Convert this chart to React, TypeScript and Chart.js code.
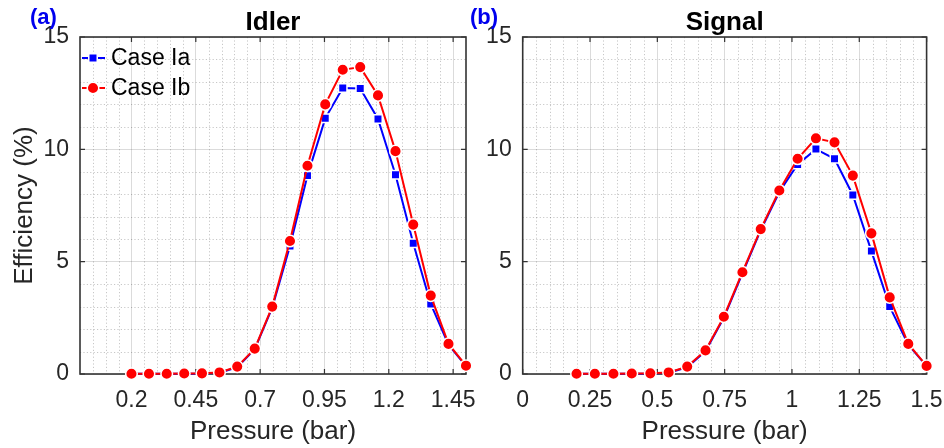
import React, { useEffect, useRef } from "react";
import { Chart, registerables } from "chart.js";

Chart.register(...registerables);

// ---------- data ----------
const pressure = [0.2, 0.268, 0.337, 0.405, 0.474, 0.542, 0.611, 0.679, 0.747, 0.816, 0.884, 0.953, 1.021, 1.089, 1.158, 1.226, 1.295, 1.363, 1.432, 1.5];
const idlerCaseIa = [0.01, 0.01, 0.01, 0.01, 0.02, 0.06, 0.3, 1.1, 2.95, 5.7, 8.83, 11.38, 12.73, 12.71, 11.35, 8.87, 5.82, 3.12, 1.3, 0.35];
const idlerCaseIb = [0.01, 0.01, 0.01, 0.02, 0.03, 0.07, 0.33, 1.13, 3.0, 5.92, 9.27, 12.0, 13.54, 13.66, 12.4, 9.92, 6.65, 3.49, 1.34, 0.37];
const signalCaseIa = [0.01, 0.01, 0.01, 0.01, 0.02, 0.06, 0.3, 1.02, 2.5, 4.48, 6.4, 8.1, 9.33, 10.01, 9.58, 7.97, 5.47, 3.0, 1.3, 0.35];
const signalCaseIb = [0.01, 0.01, 0.01, 0.02, 0.03, 0.07, 0.33, 1.05, 2.55, 4.53, 6.45, 8.17, 9.58, 10.49, 10.31, 8.83, 6.26, 3.41, 1.34, 0.36];
const idlerXTicks = [0.2, 0.45, 0.7, 0.95, 1.2, 1.45];
const signalXTicks = [0, 0.25, 0.5, 0.75, 1, 1.25, 1.5];
const yTicks = [0, 5, 10, 15];
const seriesNames = ["Case Ia", "Case Ib"];
const panelTitles = ["Idler", "Signal"];
const panelTags = ["(a)", "(b)"];
const xTitle = "Pressure (bar)";
const yTitle = "Efficiency (%)";

const FONT = "'Liberation Sans', Arial, Helvetica, sans-serif";
const AX = "#262626";

const isOnGrid = (v: number, list: number[]) => list.some((t) => Math.abs(t - v) < 1e-6);

function drawMarker(ctx: CanvasRenderingContext2D, style: string, r: number, x: number, y: number) {
  ctx.beginPath();
  if (style === "rect") {
    const s = Math.SQRT1_2 * r;
    ctx.rect(x - s, y - s, 2 * s, 2 * s);
  } else {
    ctx.arc(x, y, r, 0, Math.PI * 2);
  }
  ctx.closePath();
  ctx.fill();
  ctx.stroke();
}

const matlabPlugin = {
  id: "matlabPlugin",
  beforeDatasetsDraw(chart: any, _args: any, opts: any) {
    const { ctx, chartArea: a, scales } = chart;
    const xs = scales.x;
    const ys = scales.y;
    ctx.save();
    // minor grid (dotted)
    ctx.strokeStyle = "rgba(0,0,0,0.22)";
    ctx.lineWidth = 1;
    ctx.setLineDash([1.2, 2.2]);
    for (let i = 1; i < 30; i++) {
      const v = i * 0.05;
      if (isOnGrid(v, opts.xTicks)) continue;
      const px = Math.round(xs.getPixelForValue(v)) + 0.5;
      ctx.beginPath();
      ctx.moveTo(px, a.top);
      ctx.lineTo(px, a.bottom);
      ctx.stroke();
    }
    for (let i = 1; i < 15; i++) {
      if (isOnGrid(i, yTicks)) continue;
      const py = Math.round(ys.getPixelForValue(i)) + 0.5;
      ctx.beginPath();
      ctx.moveTo(a.left, py);
      ctx.lineTo(a.right, py);
      ctx.stroke();
    }
    ctx.setLineDash([]);
    // box
    ctx.strokeStyle = "#333333";
    ctx.lineWidth = 1.6;
    ctx.strokeRect(a.left, a.top, a.right - a.left, a.bottom - a.top);
    // inward ticks
    ctx.lineWidth = 1.2;
    const tl = 5;
    opts.xTicks.forEach((v: number) => {
      const px = xs.getPixelForValue(v);
      ctx.beginPath();
      ctx.moveTo(px, a.bottom);
      ctx.lineTo(px, a.bottom - tl);
      ctx.moveTo(px, a.top);
      ctx.lineTo(px, a.top + tl);
      ctx.stroke();
    });
    yTicks.forEach((v: number) => {
      const py = ys.getPixelForValue(v);
      ctx.beginPath();
      ctx.moveTo(a.left, py);
      ctx.lineTo(a.left + tl, py);
      ctx.moveTo(a.right, py);
      ctx.lineTo(a.right - tl, py);
      ctx.stroke();
    });
    ctx.restore();
  },
  afterDatasetsDraw(chart: any, _args: any, opts: any) {
    const { ctx, chartArea: a } = chart;
    ctx.save();
    // panel title
    ctx.fillStyle = "#000000";
    ctx.font = `bold 26px ${FONT}`;
    ctx.textAlign = "center";
    ctx.textBaseline = "alphabetic";
    ctx.fillText(opts.title, (a.left + a.right) / 2, 30);
    // tag
    ctx.fillStyle = "#0000ee";
    ctx.font = `bold 22px ${FONT}`;
    ctx.textAlign = "left";
    ctx.fillText(opts.tag, opts.tagX, 24);
    // legend
    if (opts.legend) {
      [0, 1].forEach((r) => {
        const ds = chart.data.datasets[r];
        const y = 58 + r * 30;
        const x0 = a.left + 2;
        const x1 = a.left + 25;
        const mx = a.left + 13;
        ctx.strokeStyle = ds.borderColor;
        ctx.lineWidth = 2;
        ctx.beginPath();
        ctx.moveTo(x0, y);
        ctx.lineTo(x1, y);
        ctx.stroke();
        ctx.fillStyle = ds.pointBackgroundColor;
        ctx.strokeStyle = ds.pointBorderColor;
        ctx.lineWidth = ds.pointBorderWidth;
        drawMarker(ctx, ds.pointStyle, ds.pointRadius, mx, y);
        ctx.fillStyle = "#000000";
        ctx.font = `23px ${FONT}`;
        ctx.textAlign = "left";
        ctx.textBaseline = "middle";
        ctx.fillText(ds.label, a.left + 31, y + 1);
      });
    }
    ctx.restore();
  },
};

function makeConfig(p: {
  ia: number[];
  ib: number[];
  xTicks: number[];
  title: string;
  tag: string;
  tagX: number;
  legend: boolean;
  yAxisWidth: number;
  yTitle: boolean;
  padRight: number;
}) {
  const blue = "#0000ff";
  const red = "#ff0000";
  return {
    type: "line" as const,
    data: {
      datasets: [
        {
          label: seriesNames[0],
          data: pressure.map((x, i) => ({ x, y: p.ia[i] })),
          borderColor: blue,
          backgroundColor: blue,
          borderWidth: 2,
          pointStyle: "rect",
          pointRadius: 6,
          pointBackgroundColor: blue,
          pointBorderColor: "#ffffff",
          pointBorderWidth: 1.5,
          tension: 0,
          clip: false,
          order: 1,
        },
        {
          label: seriesNames[1],
          data: pressure.map((x, i) => ({ x, y: p.ib[i] })),
          borderColor: red,
          backgroundColor: red,
          borderWidth: 2,
          pointStyle: "circle",
          pointRadius: 5.8,
          pointBackgroundColor: red,
          pointBorderColor: "#ffffff",
          pointBorderWidth: 1.5,
          tension: 0,
          clip: false,
          order: 0,
        },
      ],
    },
    options: {
      animation: false,
      responsive: false,
      devicePixelRatio: 1,
      events: [],
      layout: { padding: { left: 0, top: 37, right: p.padRight, bottom: 0 } },
      plugins: {
        legend: { display: false },
        title: { display: false },
        tooltip: { enabled: false },
        matlabPlugin: { xTicks: p.xTicks, title: p.title, tag: p.tag, tagX: p.tagX, legend: p.legend },
      },
      scales: {
        x: {
          type: "linear",
          min: 0,
          max: 1.5,
          afterBuildTicks: (s: any) => {
            s.ticks = p.xTicks.map((v) => ({ value: v }));
          },
          afterFit: (s: any) => {
            s.height = 74;
            s.paddingLeft = 0;
            s.paddingRight = 0;
          },
          ticks: {
            autoSkip: false,
            maxRotation: 0,
            minRotation: 0,
            padding: 13,
            color: AX,
            font: { family: FONT, size: 23 },
            callback: (v: number) => String(v),
          },
          grid: { color: "rgba(0,0,0,0.14)", lineWidth: 1, drawTicks: false },
          border: { display: false },
          title: {
            display: true,
            text: xTitle,
            color: AX,
            font: { family: FONT, size: 26 },
            padding: { top: 0, bottom: 1 },
          },
        },
        y: {
          type: "linear",
          min: 0,
          max: 15,
          afterBuildTicks: (s: any) => {
            s.ticks = yTicks.map((v) => ({ value: v }));
          },
          afterFit: (s: any) => {
            s.width = p.yAxisWidth;
            s.paddingTop = 0;
            s.paddingBottom = 0;
          },
          ticks: {
            padding: 11,
            color: AX,
            font: { family: FONT, size: 23 },
            callback: (v: number) => String(v),
          },
          grid: { color: "rgba(0,0,0,0.14)", lineWidth: 1, drawTicks: false },
          border: { display: false },
          title: {
            display: p.yTitle,
            text: yTitle,
            color: AX,
            font: { family: FONT, size: 26 },
            padding: { top: 9, bottom: 0 },
          },
        },
      },
    },
    plugins: [matlabPlugin],
  };
}

function Panel(props: { config: any; left: number; width: number }) {
  const ref = useRef<HTMLCanvasElement>(null);
  useEffect(() => {
    const chart = new Chart(ref.current as HTMLCanvasElement, props.config);
    return () => chart.destroy();
  }, []);
  return (
    <canvas
      ref={ref}
      width={props.width}
      height={448}
      style={{ position: "absolute", left: props.left, top: 0, width: props.width, height: 448 }}
    />
  );
}

export default function App() {
  const leftCfg = makeConfig({
    ia: idlerCaseIa,
    ib: idlerCaseIb,
    xTicks: idlerXTicks,
    title: panelTitles[0],
    tag: panelTags[0],
    tagX: 30,
    legend: true,
    yAxisWidth: 80,
    yTitle: true,
    padRight: 490 - 466,
  });
  const rightCfg = makeConfig({
    ia: signalCaseIa,
    ib: signalCaseIb,
    xTicks: signalXTicks,
    title: panelTitles[1],
    tag: panelTags[1],
    tagX: 10,
    legend: false,
    yAxisWidth: 62.7,
    yTitle: false,
    padRight: 484 - 466.6,
  });
  return (
    <div style={{ position: "fixed", left: 0, top: 0, width: 944, height: 448, background: "#ffffff", overflow: "hidden" }}>
      <Panel config={leftCfg} left={0} width={490} />
      <Panel config={rightCfg} left={460} width={484} />
    </div>
  );
}
